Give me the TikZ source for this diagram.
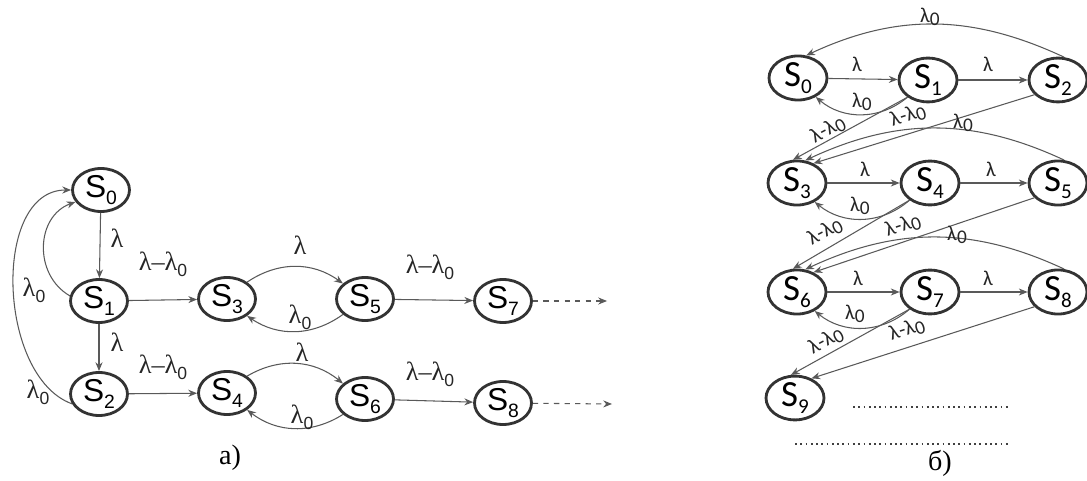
\documentclass[tikz,border=0pt]{standalone}
\usepackage{fontspec}
\setsansfont{Liberation Sans}
\newfontfamily\calibri{Carlito}
\newfontfamily\romana{Liberation Serif}
\usetikzlibrary{shapes.geometric,arrows.meta}

% subindices de los estados y de las tasas
\newcommand{\estA}[1]{S\raisebox{-0.4ex}{\fontsize{11}{11}\selectfont #1}}
\newcommand{\estB}[1]{S\raisebox{-0.4ex}{\fontsize{12}{12}\selectfont #1}}
\newcommand{\lamA}{λ\raisebox{-0.5ex}{\sffamily\fontsize{10}{10}\selectfont 0}}
\newcommand{\lamcero}{λ\raisebox{-0.3ex}{\fontsize{11}{11}\selectfont 0}}

\tikzset{
  estado/.style={draw=black!80, line width=1.6pt, ellipse, inner sep=0pt,
    minimum width=1.14cm, minimum height=0.86cm, font=\sffamily\fontsize{18}{18}\selectfont},
  estadob/.style={estado, minimum width=1.16cm, minimum height=0.86cm,
    font=\calibri\fontsize{21}{21}\selectfont},
  flecha/.style={->, black!65, line width=0.6pt},
  etq/.style={font=\romana\fontsize{15}{17}\selectfont, black!85, inner sep=1pt},
  etqb/.style={font=\calibri\fontsize{12}{14}\selectfont, black!85, inner sep=1pt},
  puntos/.style={dotted, line width=1pt, black!75},
}

\begin{document}
\begin{tikzpicture}[x=0.02cm, y=0.02cm, >={Stealth[length=5pt, width=4pt]}]
    \useasboundingbox (0,0) rectangle (1087,480);

    % 1. ESTADOS DEL ESQUEMA a)
    \node[estado] (a0) at (101,290) {\estA{0}};
    \node[estado] (a1) at (99,179) {\estA{1}};
    \node[estado] (a2) at (99,86) {\estA{2}};
    \node[estado] (a3) at (227,181) {\estA{3}};
    \node[estado] (a4) at (227,87) {\estA{4}};
    \node[estado] (a5) at (365,181) {\estA{5}};
    \node[estado] (a6) at (365,81) {\estA{6}};
    \node[estado] (a7) at (503,179) {\estA{7}};
    \node[estado] (a8) at (503,77) {\estA{8}};
    \coordinate (fin7) at (607,179);
    \coordinate (fin8) at (612,76);

    % 2. TRANSICIONES DEL ESQUEMA a)
    \draw[flecha] (a0) -- (a1);
    \draw[flecha] (a1) -- (a2);
    \draw[flecha] (a1.170) to[out=150, in=200, looseness=1.15] (a0.205);
    \draw[flecha] (a2.200) to[out=160, in=180, looseness=0.95] (a0.west);
    \draw[flecha] (a1) -- (a3);
    \draw[flecha] (a2) -- (a4);
    \foreach \i/\j in {a3/a5, a4/a6} {
        \draw[flecha] (\i.40) to[bend left=35] (\j.145);
        \draw[flecha] (\j.215) to[bend left=35] (\i.320);
    }
    \draw[flecha] (a5) -- (a7);
    \draw[flecha] (a6) -- (a8);
    \draw[flecha, dashed] (a7) -- (fin7);
    \draw[flecha, dashed] (a8) -- (fin8);

    % 3. ETIQUETAS DEL ESQUEMA a)
    \node[etq] (la01) at (117,242) {λ};
    \node[etq] (la12) at (117,138) {λ};
    \node[etq] (la10) at (34,190) {\lamA};
    \node[etq] (la20) at (38,88) {\lamA};
    \node[etq] (la13) at (163,216) {λ–\lamA};
    \node[etq] (la24) at (163,113) {λ–\lamA};
    \node[etq] (la35) at (300,235) {λ};
    \node[etq] (la53) at (300,163) {\lamA};
    \node[etq] (la46) at (302,128) {λ};
    \node[etq] (la64) at (302,63) {\lamA};
    \node[etq] (la57) at (430,213) {λ–\lamA};
    \node[etq] (la68) at (430,106) {λ–\lamA};
    \node[font=\romana\fontsize{16}{16}\selectfont] (titA) at (230,22) {a)};

    % 4. ESTADOS DEL ESQUEMA b)
    \foreach \n/\x/\y in {0/798/402, 1/928/400, 2/1058/400,
                          3/797/297, 4/930/297, 5/1058/297,
                          6/797/188, 7/930/188, 8/1058/188, 9/795/82} {
        \node[estadob] (b\n) at (\x,\y) {\estB{\n}};
    }

    % 5. TRANSICIONES DEL ESQUEMA b)
    \foreach \i/\j in {b0/b1, b1/b2, b3/b4, b4/b5, b6/b7, b7/b8} {
        \draw[flecha] (\i) -- (\j);
    }
    \foreach \i/\j in {b1/b0, b4/b3, b7/b6} {
        \draw[flecha] (\i.220) to[bend left=40] (\j.313);
    }
    \foreach \i/\j in {b2/b0, b5/b3, b8/b6} {
        \draw[flecha] (\i.75) to[out=155, in=25] (\j.70);
    }
    \foreach \a/\b/\c in {b1/b2/b3, b4/b5/b6, b7/b8/b9} {
        \draw[flecha] (\a.220) -- (\c.100);
        \draw[flecha] (\b.212) -- (\c.50);
    }

    % 6. ETIQUETAS DEL ESQUEMA b)
    \node[etqb] (lb01) at (857,416) {λ};
    \node[etqb] (lb12) at (988,416) {λ};
    \node[etqb] (lb10) at (862,378) {\lamcero};
    \node[etqb] (lb20) at (930,463) {\lamcero};
    \node[etqb, rotate=28] (lb13) at (828,350) {λ-\lamcero};
    \node[etqb, rotate=18] (lb23) at (908,364) {λ-\lamcero};
    \node[etqb] (lb34) at (865,311) {λ};
    \node[etqb] (lb45) at (991,311) {λ};
    \node[etqb] (lb43) at (860,274) {\lamcero};
    \node[etqb] (lb53) at (963,357) {\lamcero};
    \node[etqb, rotate=28] (lb46) at (825,248) {λ-\lamcero};
    \node[etqb, rotate=18] (lb56) at (903,254) {λ-\lamcero};
    \node[etqb] (lb67) at (858,202) {λ};
    \node[etqb] (lb78) at (988,202) {λ};
    \node[etqb] (lb76) at (855,166) {\lamcero};
    \node[etqb] (lb86) at (957,245) {\lamcero};
    \node[etqb, rotate=28] (lb79) at (826,139) {λ-\lamcero};
    \node[etqb, rotate=18] (lb89) at (907,150) {λ-\lamcero};
    \draw[puntos] (853,73) -- (1008,73);
    \draw[puntos] (795,36) -- (1010,36);
    \node[font=\romana\fontsize{16}{16}\selectfont] (titB) at (940,17) {б)};

\end{tikzpicture}
\end{document}
